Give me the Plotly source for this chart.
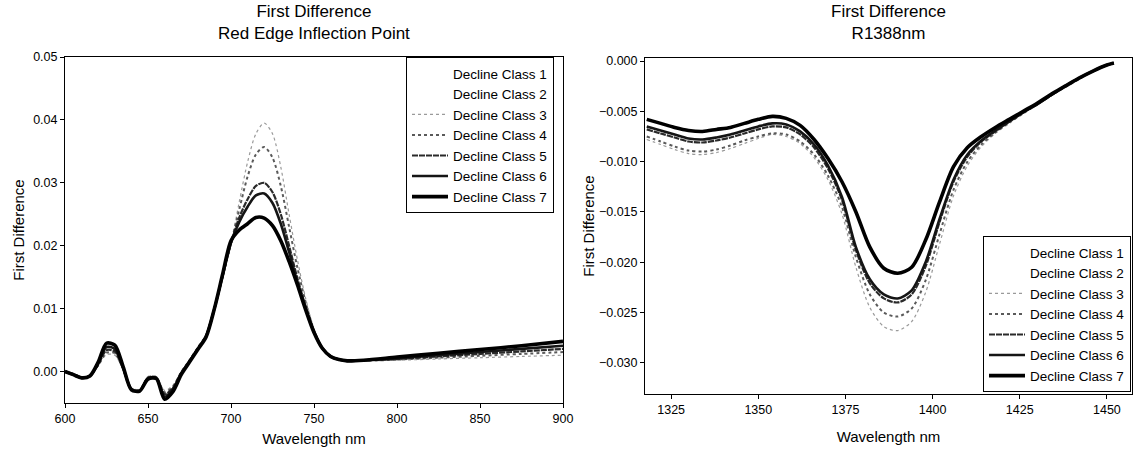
import plotly.graph_objects as go

W, H = 1135, 457

# ---------------- Left panel: Red Edge Inflection Point ----------------
wl_red = [600, 605, 610, 615, 620, 625, 630, 635, 640, 645, 650, 655, 660, 665, 670,
          675, 680, 685, 690, 695, 700, 705, 710, 715, 720, 725, 730, 735, 740, 745,
          750, 755, 760, 765, 770, 780, 800, 825, 850, 875, 900]

red_c1 = [0.0000, -0.0003, -0.0008, -0.0006, 0.0008, 0.0025, 0.0024, 0.0002, -0.0025, -0.0027,
          -0.0008, -0.0008, -0.0029, -0.0021, 0.0001, 0.0020, 0.0040, 0.0060, 0.0103, 0.0153,
          0.0203, 0.0280, 0.0350, 0.0400, 0.0415, 0.0398, 0.0342, 0.0262, 0.0185, 0.0120,
          0.0070, 0.0040, 0.0025, 0.0019, 0.0017, 0.0017, 0.0018, 0.0019, 0.0021, 0.0023, 0.0025]
red_c2 = [0.0000, -0.0003, -0.0008, -0.0006, 0.0008, 0.0026, 0.0025, 0.0003, -0.0025, -0.0027,
          -0.0008, -0.0008, -0.0029, -0.0021, 0.0000, 0.0019, 0.0039, 0.0059, 0.0102, 0.0152,
          0.0203, 0.0275, 0.0342, 0.0390, 0.0405, 0.0388, 0.0334, 0.0256, 0.0182, 0.0118,
          0.0069, 0.0039, 0.0025, 0.0019, 0.0017, 0.0017, 0.0018, 0.0019, 0.0021, 0.0023, 0.0025]
red_c3 = [0.0000, -0.0003, -0.0008, -0.0006, 0.0009, 0.0027, 0.0026, 0.0003, -0.0026, -0.0028,
          -0.0008, -0.0008, -0.0030, -0.0022, 0.0000, 0.0019, 0.0039, 0.0059, 0.0102, 0.0152,
          0.0203, 0.0270, 0.0333, 0.0378, 0.0395, 0.0378, 0.0325, 0.0250, 0.0178, 0.0116,
          0.0068, 0.0039, 0.0025, 0.0019, 0.0017, 0.0017, 0.0018, 0.0020, 0.0022, 0.0024, 0.0026]
red_c4 = [0.0000, -0.0004, -0.0009, -0.0006, 0.0010, 0.0030, 0.0029, 0.0004, -0.0027, -0.0029,
          -0.0009, -0.0009, -0.0033, -0.0024, -0.0001, 0.0018, 0.0038, 0.0058, 0.0101, 0.0152,
          0.0204, 0.0258, 0.0310, 0.0345, 0.0357, 0.0340, 0.0295, 0.0230, 0.0165, 0.0110,
          0.0066, 0.0038, 0.0024, 0.0019, 0.0017, 0.0017, 0.0019, 0.0022, 0.0025, 0.0028, 0.0031]
red_c5 = [0.0000, -0.0004, -0.0009, -0.0007, 0.0011, 0.0034, 0.0032, 0.0005, -0.0028, -0.0030,
          -0.0010, -0.0010, -0.0036, -0.0026, -0.0002, 0.0017, 0.0037, 0.0057, 0.0100, 0.0152,
          0.0204, 0.0245, 0.0274, 0.0295, 0.0300, 0.0285, 0.0250, 0.0200, 0.0148, 0.0103,
          0.0064, 0.0037, 0.0024, 0.0019, 0.0017, 0.0018, 0.0020, 0.0024, 0.0028, 0.0032, 0.0036]
red_c6 = [0.0000, -0.0005, -0.0010, -0.0007, 0.0013, 0.0039, 0.0036, 0.0006, -0.0028, -0.0031,
          -0.0011, -0.0011, -0.0040, -0.0028, -0.0003, 0.0016, 0.0036, 0.0056, 0.0100, 0.0153,
          0.0205, 0.0238, 0.0262, 0.0280, 0.0283, 0.0268, 0.0235, 0.0190, 0.0142, 0.0100,
          0.0063, 0.0037, 0.0024, 0.0019, 0.0017, 0.0018, 0.0021, 0.0026, 0.0031, 0.0036, 0.0041]
red_c7 = [0.0000, -0.0005, -0.0010, -0.0007, 0.0015, 0.0045, 0.0042, 0.0008, -0.0029, -0.0031,
          -0.0012, -0.0011, -0.0044, -0.0032, -0.0005, 0.0015, 0.0035, 0.0055, 0.0100, 0.0155,
          0.0208, 0.0225, 0.0235, 0.0245, 0.0244, 0.0232, 0.0208, 0.0175, 0.0138, 0.0098,
          0.0062, 0.0037, 0.0024, 0.0019, 0.0017, 0.0018, 0.0023, 0.0029, 0.0035, 0.0041, 0.0048]

# ---------------- Right panel: R1388nm ----------------
wl_water = [1318, 1322, 1326, 1330, 1334, 1338, 1342, 1346, 1350, 1354, 1358, 1362, 1366,
            1370, 1374, 1378, 1382, 1386, 1390, 1394, 1398, 1402, 1406, 1410, 1414, 1418,
            1422, 1426, 1430, 1434, 1438, 1442, 1446, 1450, 1452]

wat_c1 = [-0.0082, -0.0087, -0.0092, -0.0096, -0.0097, -0.0095, -0.0091, -0.0086, -0.0081, -0.0077,
          -0.0079, -0.0086, -0.0100, -0.0123, -0.0158, -0.0213, -0.0255, -0.0276, -0.0280, -0.0270,
          -0.0240, -0.0190, -0.0140, -0.0108, -0.0088, -0.0074, -0.0063, -0.0053, -0.0044, -0.0035,
          -0.0026, -0.0018, -0.0010, -0.0004, -0.0002]
wat_c2 = [-0.0080, -0.0085, -0.0090, -0.0094, -0.0095, -0.0093, -0.0089, -0.0084, -0.0079, -0.0075,
          -0.0077, -0.0084, -0.0098, -0.0120, -0.0155, -0.0209, -0.0250, -0.0270, -0.0274, -0.0264,
          -0.0235, -0.0186, -0.0137, -0.0106, -0.0086, -0.0073, -0.0062, -0.0052, -0.0043, -0.0034,
          -0.0026, -0.0018, -0.0010, -0.0004, -0.0002]
wat_c3 = [-0.0078, -0.0083, -0.0088, -0.0092, -0.0093, -0.0091, -0.0087, -0.0082, -0.0077, -0.0073,
          -0.0075, -0.0082, -0.0096, -0.0118, -0.0152, -0.0205, -0.0245, -0.0264, -0.0268, -0.0259,
          -0.0230, -0.0182, -0.0134, -0.0104, -0.0085, -0.0072, -0.0062, -0.0052, -0.0043, -0.0034,
          -0.0026, -0.0018, -0.0010, -0.0004, -0.0002]
wat_c4 = [-0.0075, -0.0080, -0.0085, -0.0089, -0.0090, -0.0088, -0.0084, -0.0079, -0.0075, -0.0072,
          -0.0073, -0.0080, -0.0093, -0.0114, -0.0145, -0.0195, -0.0232, -0.0250, -0.0254, -0.0246,
          -0.0218, -0.0172, -0.0128, -0.0100, -0.0083, -0.0071, -0.0061, -0.0052, -0.0043, -0.0034,
          -0.0026, -0.0018, -0.0010, -0.0004, -0.0002]
wat_c5 = [-0.0068, -0.0072, -0.0076, -0.0080, -0.0081, -0.0079, -0.0076, -0.0072, -0.0068, -0.0065,
          -0.0066, -0.0073, -0.0086, -0.0107, -0.0138, -0.0188, -0.0221, -0.0236, -0.0240, -0.0232,
          -0.0204, -0.0160, -0.0120, -0.0095, -0.0080, -0.0070, -0.0060, -0.0051, -0.0043, -0.0034,
          -0.0025, -0.0017, -0.0010, -0.0004, -0.0002]
wat_c6 = [-0.0065, -0.0069, -0.0073, -0.0077, -0.0078, -0.0076, -0.0073, -0.0069, -0.0065, -0.0062,
          -0.0063, -0.0070, -0.0083, -0.0104, -0.0135, -0.0185, -0.0217, -0.0232, -0.0236, -0.0228,
          -0.0200, -0.0157, -0.0118, -0.0093, -0.0079, -0.0069, -0.0060, -0.0051, -0.0043, -0.0034,
          -0.0025, -0.0017, -0.0010, -0.0004, -0.0002]
wat_c7 = [-0.0058, -0.0062, -0.0066, -0.0069, -0.0070, -0.0068, -0.0066, -0.0062, -0.0058, -0.0055,
          -0.0057, -0.0064, -0.0078, -0.0097, -0.0120, -0.0150, -0.0185, -0.0206, -0.0211, -0.0205,
          -0.0178, -0.0140, -0.0105, -0.0086, -0.0075, -0.0066, -0.0058, -0.0050, -0.0042, -0.0033,
          -0.0025, -0.0017, -0.0010, -0.0004, -0.0002]

class_names = ["Decline Class 1", "Decline Class 2", "Decline Class 3", "Decline Class 4",
               "Decline Class 5", "Decline Class 6", "Decline Class 7"]
red_series = [red_c1, red_c2, red_c3, red_c4, red_c5, red_c6, red_c7]
wat_series = [wat_c1, wat_c2, wat_c3, wat_c4, wat_c5, wat_c6, wat_c7]

line_styles = [
    dict(color="#ffffff", width=1),
    dict(color="#ffffff", width=1),
    dict(color="#9a9a9a", width=1.2, dash="dot"),
    dict(color="#5a5a5a", width=2, dash="dot"),
    dict(color="#2a2a2a", width=2.2, dash="6px,1px"),
    dict(color="#151515", width=2.6),
    dict(color="#000000", width=3.6),
]

FONT = "Liberation Sans, Arial, sans-serif"

fig = go.Figure()
for name, ys, st in zip(class_names, red_series, line_styles):
    fig.add_trace(go.Scatter(x=wl_red, y=ys, name=name, mode="lines",
                             line=dict(shape="spline", smoothing=0.8, **st),
                             xaxis="x", yaxis="y", legend="legend"))
for name, ys, st in zip(class_names, wat_series, line_styles):
    fig.add_trace(go.Scatter(x=wl_water, y=ys, name=name, mode="lines",
                             line=dict(shape="spline", smoothing=0.8, **st),
                             xaxis="x2", yaxis="y2", legend="legend2"))

def px_x(p):
    return p / W

def px_y(p):
    return 1 - p / H

axis_common = dict(showline=True, linecolor="black", linewidth=1, mirror=True,
                   ticks="outside", ticklen=4, tickcolor="black", showgrid=False,
                   zeroline=False, automargin=False,
                   tickfont=dict(family=FONT, size=12.5, color="black"))
title_font = dict(family=FONT, size=15, color="black")
legend_common = dict(bgcolor="white", bordercolor="black", borderwidth=1,
                     font=dict(family=FONT, size=13.5, color="black"), traceorder="normal",
                     itemwidth=36)

fig.update_layout(
    width=W, height=H,
    margin=dict(l=0, r=0, t=0, b=0),
    paper_bgcolor="white", plot_bgcolor="white",
    font=dict(family=FONT, color="black"),
    xaxis=dict(domain=[px_x(65), px_x(563)], range=[600, 900], tickvals=[600, 650, 700, 750, 800, 850, 900],
               title=dict(text="Wavelength nm", font=title_font, standoff=8), anchor="y", **axis_common),
    yaxis=dict(domain=[px_y(403), px_y(57)], range=[-0.005, 0.05],
               tickvals=[0.0, 0.01, 0.02, 0.03, 0.04, 0.05], tickformat=".2f",
               title=dict(text="First Difference", font=title_font, standoff=4), anchor="x", **axis_common),
    xaxis2=dict(domain=[px_x(645), px_x(1132)], range=[1317.5, 1457.2],
                tickvals=[1325, 1350, 1375, 1400, 1425, 1450],
                title=dict(text="Wavelength nm", font=title_font), anchor="y2", **axis_common),
    yaxis2=dict(domain=[px_y(394), px_y(58)], range=[-0.0331, 0.0003],
                tickvals=[0.0, -0.005, -0.01, -0.015, -0.02, -0.025, -0.03], tickformat=".3f",
                title=dict(text="First Difference", font=title_font, standoff=0), anchor="x2", **axis_common),
    legend=dict(x=px_x(406), y=px_y(57), xanchor="left", yanchor="top", **legend_common),
    legend2=dict(x=px_x(983), y=px_y(392), xanchor="left", yanchor="bottom", **legend_common),
    annotations=[
        dict(text="First Difference<br>Red Edge Inflection Point", x=(px_x(65) + px_x(563)) / 2,
             y=px_y(22), xref="paper", yref="paper", showarrow=False, xanchor="center", yanchor="middle",
             font=dict(family=FONT, size=17, color="black")),
        dict(text="First Difference<br>R1388nm", x=(px_x(645) + px_x(1132)) / 2,
             y=px_y(22), xref="paper", yref="paper", showarrow=False, xanchor="center", yanchor="middle",
             font=dict(family=FONT, size=17, color="black")),
    ],
)

fig.write_html("out.html", config={"displayModeBar": False},
               post_script="document.body.style.margin='0';")
